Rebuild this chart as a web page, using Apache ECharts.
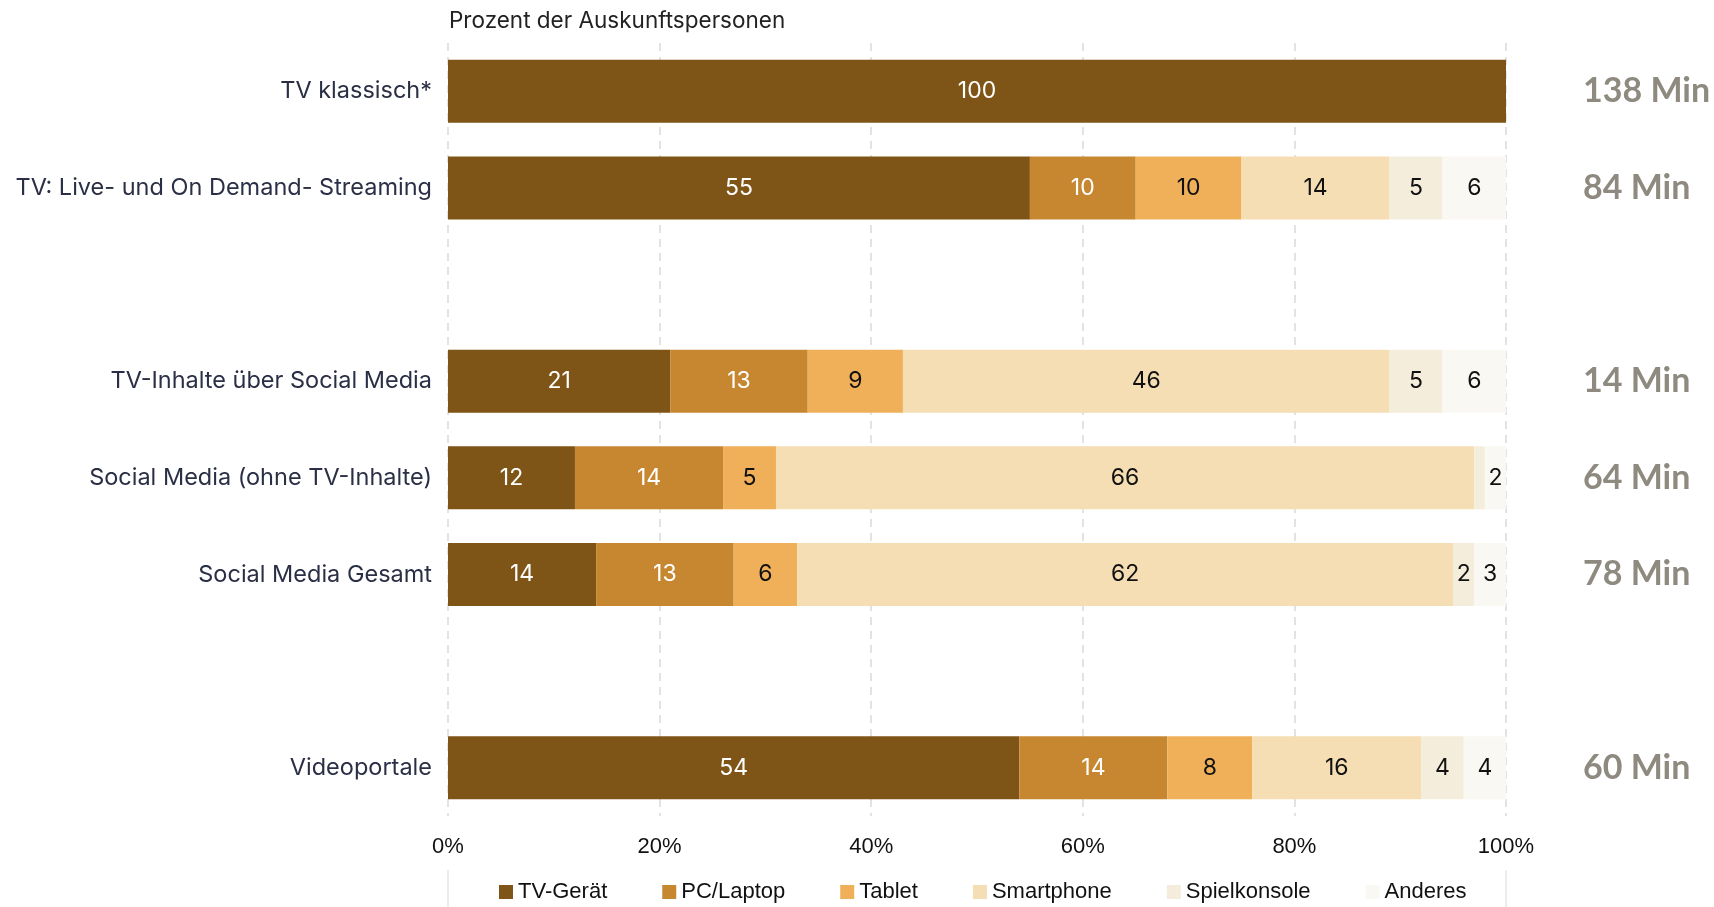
<!DOCTYPE html>
<html>
<head>
<meta charset="utf-8">
<script src="https://cdn.jsdelivr.net/npm/echarts@6/dist/echarts.min.js"></script>
<style>
html,body{margin:0;padding:0;background:#fff;overflow:hidden;}
#chart{width:1714px;height:907px;}
</style>
</head>
<body>
<div id="chart"></div>
<script>
const categories = ['TV klassisch*', 'TV: Live- und On Demand- Streaming', '', 'TV-Inhalte über Social Media', 'Social Media (ohne TV-Inhalte)', 'Social Media Gesamt', '', 'Videoportale'];
const minutes = ['138 Min', '84 Min', '', '14 Min', '64 Min', '78 Min', '', '60 Min'];
const seriesNames = ['TV-Gerät', 'PC/Laptop', 'Tablet', 'Smartphone', 'Spielkonsole', 'Anderes'];
const tvGeraet     = [100, 55, null, 21, 12, 14, null, 54];
const pcLaptop     = [0, 10, null, 13, 14, 13, null, 14];
const tablet       = [0, 10, null, 9, 5, 6, null, 8];
const smartphone   = [0, 14, null, 46, 66, 62, null, 16];
const spielkonsole = [0, 5, null, 5, 1, 2, null, 4];
const anderes      = [0, 6, null, 6, 2, 3, null, 4];
const xTicks = [0, 20, 40, 60, 80, 100];

const values = [tvGeraet, pcLaptop, tablet, smartphone, spielkonsole, anderes];
const colors = ['#7f5417', '#c68730', '#f0b05a', '#f5deb3', '#f4eddb', '#f9f8f3'];
const labelColors = ['#ffffff', '#ffffff', '#111111', '#111111', '#111111', '#111111'];
const labelFont = 'Inter, Lato, "Noto Sans", sans-serif';
const arial = '"Liberation Sans", Arial, sans-serif';

const chart = echarts.init(document.getElementById('chart'));
chart.setOption({
  animation: false,
  backgroundColor: '#ffffff',
  title: {
    text: 'Prozent der Auskunftspersonen',
    left: 444, top: 5,
    textStyle: {fontFamily: labelFont, fontWeight: 'normal', fontSize: 22.5, color: '#222222'}
  },
  legend: {
    data: seriesNames,
    bottom: -1,
    left: 494,
    icon: 'rect',
    itemWidth: 14, itemHeight: 14,
    itemGap: 55,
    textStyle: {fontFamily: arial, fontSize: 22, color: '#111111'}
  },
  grid: {left: 448, right: 208, top: 43, bottom: 91, containLabel: false, outerBoundsMode: 'none'},
  xAxis: {
    type: 'value', min: 0, max: 100, interval: 20,
    axisLine: {show: false}, axisTick: {show: false},
    splitLine: {show: true, lineStyle: {color: '#e3e3e3', width: 2, type: [8, 6]}},
    axisLabel: {
      formatter: v => xTicks.includes(v) ? v + '%' : '',
      margin: 20,
      fontFamily: arial, fontSize: 22, color: '#111111'
    }
  },
  yAxis: [{
    type: 'category', data: categories, inverse: true,
    axisLine: {show: false}, axisTick: {show: false},
    axisLabel: {margin: 16, fontFamily: labelFont, fontSize: 23.5, color: '#2b2f45'}
  }, {
    type: 'category', data: categories, inverse: true, position: 'right',
    axisLine: {show: false}, axisTick: {show: false},
    axisLabel: {
      margin: 77, align: 'left',
      formatter: (v, i) => minutes[i],
      fontFamily: 'Lato, "Noto Sans", sans-serif', fontWeight: 'bold', fontSize: 34, color: '#8e8a80'
    }
  }],
  series: seriesNames.map((name, k) => ({
    name: name,
    type: 'bar',
    stack: 'total',
    barWidth: 63,
    itemStyle: {color: colors[k]},
    label: {
      show: true,
      position: 'inside',
      formatter: p => (p.value >= 2 ? String(p.value) : ''),
      fontFamily: labelFont, fontSize: 23, color: labelColors[k]
    },
    emphasis: {disabled: true},
    data: values[k]
  }))
});

// light frame lines at 0% and 100% in the legend row
const x0 = chart.convertToPixel({xAxisIndex: 0}, 0);
const x1 = chart.convertToPixel({xAxisIndex: 0}, 100);
chart.setOption({
  graphic: [x0, x1].map(x => ({
    type: 'line', silent: true,
    shape: {x1: x, y1: 870, x2: x, y2: 907},
    style: {stroke: '#e6e6e6', lineWidth: 1.5}
  }))
});
</script>
</body>
</html>
